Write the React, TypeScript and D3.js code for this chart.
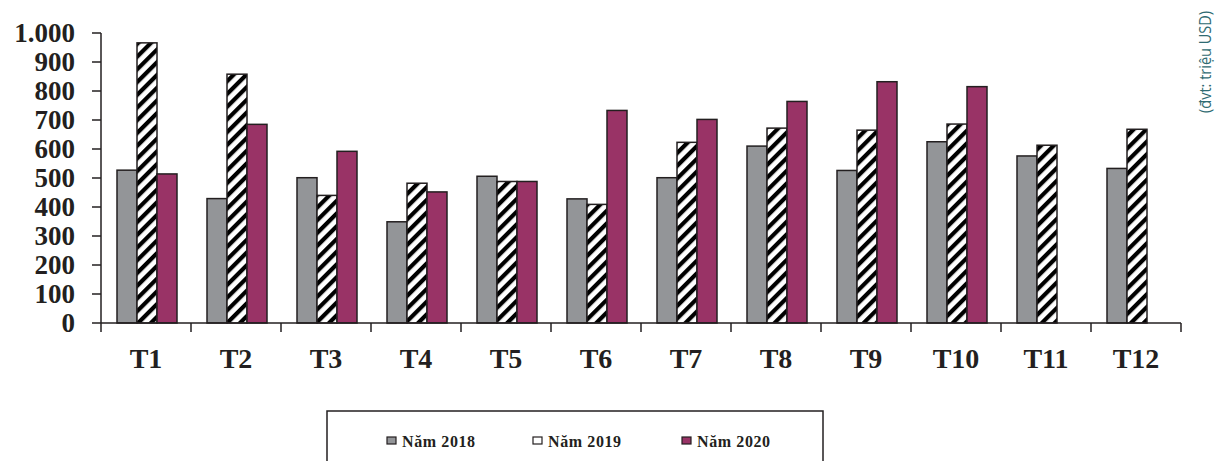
import React from "react";
import * as d3 from "d3";

const categories = ["T1","T2","T3","T4","T5","T6","T7","T8","T9","T10","T11","T12"];
const seriesNames = ["Năm 2018","Năm 2019","Năm 2020"];
const values2018 = [527,429,501,349,506,428,501,610,526,625,576,533];
const values2019 = [966,858,440,482,488,409,623,672,665,686,613,668];
const values2020: (number | null)[] = [514,685,592,452,488,733,702,764,832,815,null,null];
const yTicks = [0,100,200,300,400,500,600,700,800,900,1000];
const yTickLabels = ["0","100","200","300","400","500","600","700","800","900","1.000"];
const unitLabel = "(đvt: triệu USD)";

const W = 1219, H = 461;
const INK = "#231f20";
const fills = ["#939598", "url(#hatch)", "#993366"];

export default function App() {
  const x = d3.scaleBand<string>().domain(categories).range([101, 1181]).padding(0);
  const y = d3.scaleLinear().domain([0, 1000]).range([323, 33]);
  const xs = d3.scaleBand<string>().domain(seriesNames).range([16, 76]).padding(0);
  const data = [values2018, values2019, values2020];
  const serif = "'Liberation Serif', 'Times New Roman', serif";

  const legendX = [387, 533, 682];

  return (
    <svg width={W} height={H} style={{ position: "absolute", left: 0, top: 0, background: "#fff" }}>
      <defs>
        <pattern id="hatch" patternUnits="userSpaceOnUse" width={9} height={9} patternTransform="rotate(45)">
          <rect x={0} y={0} width={9} height={9} fill="#fff" />
          <rect x={0} y={0} width={4.2} height={9} fill="#000" />
        </pattern>
      </defs>
      {/* bars */}
      {data.map((vals, si) =>
        vals.map((v, ci) =>
          v == null ? null : (
            <rect
              key={`${si}-${ci}`}
              x={(x(categories[ci]) as number) + (xs(seriesNames[si]) as number)}
              y={y(v)}
              width={xs.bandwidth()}
              height={y(0) - y(v)}
              fill={fills[si]}
              stroke={INK}
              strokeWidth={1.5}
            />
          )
        )
      )}
      {/* y axis */}
      <line x1={101} x2={101} y1={y(1000)} y2={y(0)} stroke={INK} strokeWidth={1.5} />
      {yTicks.map((t, i) => (
        <g key={t}>
          <line x1={92} x2={101} y1={y(t)} y2={y(t)} stroke={INK} strokeWidth={1.5} />
          <text
            x={75}
            y={y(t)}
            dy="0.35em"
            textAnchor="end"
            fontFamily={serif}
            fontWeight="bold"
            fontSize={27}
            fill={INK}
          >
            {yTickLabels[i]}
          </text>
        </g>
      ))}
      {/* x axis */}
      <line x1={101} x2={1181} y1={y(0)} y2={y(0)} stroke={INK} strokeWidth={1.5} />
      {categories.map((c) => (
        <line key={"t" + c} x1={x(c) as number} x2={x(c) as number} y1={y(0)} y2={y(0) + 9} stroke={INK} strokeWidth={1.5} />
      ))}
      <line x1={1181} x2={1181} y1={y(0)} y2={y(0) + 9} stroke={INK} strokeWidth={1.5} />
      {categories.map((c) => (
        <text
          key={"l" + c}
          x={(x(c) as number) + x.bandwidth() / 2}
          y={368}
          textAnchor="middle"
          fontFamily={serif}
          fontWeight="bold"
          fontSize={28}
          fill={INK}
        >
          {c}
        </text>
      ))}
      {/* unit label */}
      <text
        transform="translate(1211,62) rotate(-90)"
        textAnchor="middle"
        fontFamily="'Open Sans', sans-serif"
        fontSize={16}
        textLength={102}
        lengthAdjust="spacingAndGlyphs"
        fill="#2f6b72"
      >
        {unitLabel}
      </text>
      {/* legend */}
      <rect x={327} y={411} width={496} height={70} fill="#fff" stroke={INK} strokeWidth={1.5} />
      {seriesNames.map((s, i) => (
        <g key={s}>
          <rect x={legendX[i]} y={437} width={9} height={7} fill={i === 1 ? "#fff" : fills[i]} stroke={INK} strokeWidth={1.2} />
          <text
            x={legendX[i] + 15}
            y={447}
            fontFamily={serif}
            fontWeight="bold"
            fontSize={16}
            letterSpacing={0.6}
            fill={INK}
          >
            {s}
          </text>
        </g>
      ))}
    </svg>
  );
}
